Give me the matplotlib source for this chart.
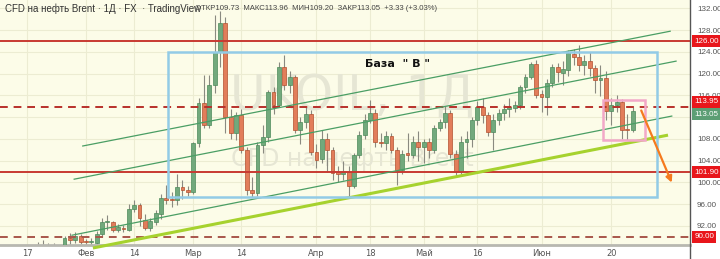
import matplotlib
matplotlib.use('Agg')
import matplotlib.pyplot as plt
import matplotlib.transforms as mtrans
from matplotlib.patches import Rectangle, FancyArrowPatch
import numpy as np

# daily candles, first one is 10 Jan (index -5), 17 Jan = index 0
first_idx = -5
opens = [83.5, 83.7, 87.0, 87.4, 86.6, 86.5, 86.7, 87.8, 88.3, 88.5,
         87.8, 86.3, 88.2, 89.8, 89.4, 90.2, 89.1, 89.0, 88.9, 90.5,
         92.7, 92.7, 91.3, 91.7, 91.3, 95.1, 95.9, 93.1, 91.6, 92.7,
         94.2, 97.1, 96.9, 96.8, 99.2, 98.6, 98.2, 107.2, 114.6, 110.6,
         117.9, 124.0, 129.3, 112.0, 109.0, 112.4, 106.0, 98.6, 98.0, 106.9,
         108.4, 116.6, 114.2, 121.2, 117.9, 119.4, 109.6, 111.1, 112.6, 105.6,
         104.3, 108.0, 106.0, 101.9, 101.5, 102.0, 99.3, 105.0, 108.7, 111.5,
         112.8, 107.4, 107.2, 108.5, 106.0, 102.3, 105.4, 105.0, 107.4, 106.5,
         107.4, 106.0, 110.0, 111.1, 112.8, 105.2, 101.9, 107.4, 108.0, 111.5,
         113.9, 112.4, 109.3, 111.5, 112.8, 113.5, 113.7, 114.2, 117.5, 119.4,
         121.8, 116.3, 115.7, 118.3, 121.2, 120.1, 120.7, 123.6, 123.0, 121.6,
         122.3, 121.0, 118.8, 119.2, 113.1, 114.2, 114.8, 109.8, 109.73]
highs = [84.0, 87.3, 87.9, 87.5, 87.3, 87.2, 88.2, 89.0, 89.4, 88.8,
         88.9, 88.4, 90.2, 90.7, 90.9, 90.6, 89.6, 89.8, 91.0, 93.5,
         94.0, 93.0, 92.3, 92.2, 96.0, 96.8, 96.3, 94.2, 93.5, 95.0,
         97.8, 99.5, 98.3, 101.5, 100.5, 99.3, 107.5, 115.5, 119.7, 119.7,
         130.8, 131.5, 130.5, 113.5, 113.0, 113.5, 106.5, 101.0, 107.5, 110.5,
         117.0, 117.5, 122.1, 123.4, 120.5, 119.8, 112.0, 114.0, 113.3, 107.0,
         109.6, 109.0, 106.5, 103.0, 104.0, 103.0, 105.5, 109.5, 112.5, 115.2,
         113.5, 109.0, 109.5, 109.0, 106.5, 106.0, 109.0, 108.5, 109.4, 108.0,
         108.2, 110.5, 111.6, 114.0, 113.3, 106.0, 108.5, 109.5, 112.0, 115.0,
         115.5, 113.0, 112.5, 113.5, 114.5, 115.5, 115.0, 118.0, 120.0, 122.2,
         122.5, 117.0, 119.0, 121.7, 122.0, 122.3, 124.3, 124.6, 125.3, 123.4,
         124.0, 121.5, 121.5, 120.5, 115.5, 116.0, 115.3, 112.5, 113.96]
lows = [82.0, 83.3, 86.4, 85.8, 85.7, 85.9, 86.3, 87.0, 87.5, 87.0,
        85.0, 86.0, 88.0, 88.5, 88.8, 88.6, 88.0, 88.2, 88.6, 90.2,
        91.3, 90.8, 90.9, 90.8, 91.0, 94.5, 92.0, 91.2, 91.0, 92.2,
        93.2, 96.0, 95.5, 95.8, 97.0, 97.5, 97.8, 106.5, 110.0, 110.0,
        116.5, 121.2, 109.0, 108.0, 107.8, 105.5, 97.7, 97.3, 97.5, 105.5,
        107.5, 112.5, 113.8, 117.0, 116.5, 109.0, 107.0, 110.0, 105.0, 102.7,
        103.5, 102.0, 100.5, 100.0, 100.5, 97.3, 99.0, 104.5, 108.0, 111.0,
        106.5, 106.5, 106.0, 105.5, 99.5, 101.5, 104.0, 104.5, 104.0, 103.5,
        104.5, 105.5, 109.5, 110.0, 104.5, 101.0, 101.5, 104.5, 106.5, 110.5,
        111.0, 108.5, 106.0, 110.5, 111.5, 112.0, 113.0, 113.5, 116.5, 119.0,
        115.5, 113.0, 112.4, 117.5, 118.5, 118.0, 119.5, 121.5, 120.5, 119.8,
        119.5, 116.5, 115.8, 111.5, 110.5, 113.0, 108.0, 107.8, 109.20]
closes = [83.7, 87.2, 87.4, 86.6, 86.5, 86.7, 87.8, 88.3, 88.5, 87.8,
          86.3, 88.2, 89.8, 89.4, 90.2, 89.1, 89.0, 89.1, 90.5, 92.7,
          92.8, 91.3, 91.8, 91.4, 95.1, 95.9, 93.5, 91.6, 93.0, 94.4,
          97.1, 96.8, 96.8, 99.2, 98.6, 98.2, 107.2, 114.6, 110.6, 117.9,
          124.0, 129.3, 112.0, 109.0, 112.4, 106.0, 98.6, 98.0, 106.9, 108.4,
          116.6, 114.2, 121.2, 117.9, 119.4, 109.6, 111.1, 112.6, 105.6, 104.1,
          108.0, 106.0, 101.7, 101.5, 102.0, 99.3, 105.0, 108.7, 111.5, 112.8,
          107.4, 107.2, 108.5, 106.0, 102.3, 105.2, 105.0, 107.4, 106.5, 107.4,
          106.0, 110.0, 111.1, 112.8, 105.2, 101.9, 107.4, 108.0, 111.5, 113.9,
          112.4, 109.3, 111.5, 112.8, 113.5, 113.9, 114.2, 117.5, 119.4, 121.8,
          116.1, 115.7, 118.3, 121.2, 120.3, 120.9, 123.8, 123.0, 121.6, 122.3,
          121.0, 118.8, 119.2, 113.1, 114.2, 114.8, 109.6, 109.6, 113.05]

tick_pos = [0, 11, 20, 31, 40, 54, 64, 74, 84, 96, 109]
tick_labels = ['17', 'Фев', '14', 'Мар', '14', 'Апр', '18', 'Май', '16', 'Июн', '20']
price_ticks = [92, 96, 100, 104, 108, 112, 116, 120, 124, 128, 132]

red_levels = [126.00, 101.90]
dashed_levels = [113.95, 90.00]
last_close = 113.05

# drawn objects (index, price)
upper_line = ([10.4, 120.0], [106.7, 127.8])
middle_line = ([8.8, 121.1], [100.6, 122.3])
lower_line = ([8.4, 120.3], [90.3, 112.2])
support_line = ([12.3, 119.6], [87.95, 108.7])
base_box = (26.3, 97.3, 117.5, 124.0)
pink_box = (107.5, 107.8, 115.3, 115.2)
arrow_pts = ((114.4, 113.7), (120.5, 99.5))

idx = np.arange(first_idx, first_idx + len(opens))
o = np.array(opens); h = np.array(highs); l = np.array(lows); c = np.array(closes)
up = c >= o

bg = '#fcfce8'
fig = plt.figure(figsize=(7.2, 2.59), dpi=100, facecolor='white')
ax = fig.add_axes([0, 14/259, 690/720, 245/259], facecolor=bg)
ax.set_xlim(-5.04, 123.7)
ax.set_ylim(88.5, 133.54)

# grid
for t in tick_pos:
    ax.axvline(t, color='#ececd2', lw=0.8, zorder=0)
for p in price_ticks:
    ax.axhline(p, color='#ececd2', lw=0.8, zorder=0)

# watermark
ax.text(0.51, 0.61, 'UKOIL, 1Д', transform=ax.transAxes, fontsize=35,
        color='#e6e6d4', ha='center', va='center', zorder=0.5)
ax.text(0.51, 0.35, 'CFD на нефть Brent', transform=ax.transAxes, fontsize=17,
        color='#e6e6d4', ha='center', va='center', zorder=0.5)

# candles
ax.vlines(idx, l, h, color='#8a8a80', lw=0.8, zorder=2)
body_low = np.minimum(o, c)
body_h = np.maximum(np.abs(c - o), 0.18)
ax.bar(idx[up], body_h[up], bottom=body_low[up], width=0.72,
       color='#72a97c', edgecolor='#4d8a5a', lw=0.5, zorder=3)
ax.bar(idx[~up], body_h[~up], bottom=body_low[~up], width=0.72,
       color='#e27d5a', edgecolor='#b2502f', lw=0.5, zorder=3)

# levels
for lv in red_levels:
    ax.axhline(lv, color='#c83a32', lw=1.4, zorder=4)
ax.axhline(dashed_levels[0], color='#b8302a', lw=1.4, ls=(0, (4, 3)), zorder=4)
ax.axhline(dashed_levels[1], color='#a8564a', lw=1.4, ls=(0, (4, 3)), zorder=4)

# channel
for xs, ys in (upper_line, middle_line, lower_line):
    ax.plot(xs, ys, color='#4a9e64', lw=0.9, zorder=4)
ax.plot(*support_line, color='#a6d22e', lw=2.2, zorder=4, clip_on=False,
        solid_capstyle='butt')

x0, y0, x1, y1 = base_box
ax.add_patch(Rectangle((x0, y0), x1 - x0, y1 - y0, fill=False,
                       edgecolor='#92cbe6', lw=1.8, zorder=5))
x0, y0, x1, y1 = pink_box
ax.add_patch(Rectangle((x0, y0), x1 - x0, y1 - y0, fill=False,
                       edgecolor='#f2a8c8', lw=1.8, zorder=5))
ax.add_patch(FancyArrowPatch(arrow_pts[0], arrow_pts[1], arrowstyle='-|>',
                             mutation_scale=9, color='#f57a1e', lw=1.6, zorder=6))

ax.text(69.2, 121.8, 'База  " В "', fontsize=8, fontweight='bold',
        ha='center', va='center', color='#111111', zorder=6)

# header
ax.text(0.007, 0.965, 'CFD на нефть Brent · 1Д · FX  · TradingView',
        transform=ax.transAxes, fontsize=7, color='#333333', va='center',
        family='Liberation Sans', zorder=7)
ax.text(0.283, 0.965, 'ОТКР109.73  МАКС113.96  МИН109.20  ЗАКР113.05  +3.33 (+3.03%)',
        transform=ax.transAxes, fontsize=5.6, color='#444444', va='center',
        family='Liberation Sans', zorder=7)

# axes look
ax.set_xticks(tick_pos)
ax.set_xticklabels(tick_labels, fontsize=6, color='#555555')
ax.tick_params(axis='x', length=0, pad=3)
ax.yaxis.tick_right()
ax.set_yticks(price_ticks)
ax.set_yticklabels(['%.2f' % p for p in price_ticks], fontsize=5.8,
                   color='#555555', family='Liberation Sans')
ax.tick_params(axis='y', length=0, pad=5)
for s in ('top', 'left', 'right'):
    ax.spines[s].set_visible(False)
ax.spines['bottom'].set_color('#b8b8b0')
ax.spines['bottom'].set_linewidth(2)

fig.add_artist(plt.Line2D([690/720, 690/720], [0, 1], color='#555555', lw=1,
                          transform=fig.transFigure))

# price labels on the scale, the two near 113 pushed apart like TradingView does
tr = mtrans.blended_transform_factory(ax.transAxes, ax.transData)
label_shift = {113.95: 0.85}
for lv in red_levels + dashed_levels:
    ax.text(1.006, lv + label_shift.get(lv, 0), '%.2f' % lv, transform=tr,
            fontsize=5.8, color='white', va='center', ha='left', zorder=8,
            clip_on=False, family='Liberation Sans',
            bbox=dict(boxstyle='square,pad=0.3', fc='#e8161b', ec='none'))
ax.text(1.006, last_close - 0.5, '%.2f' % last_close, transform=tr, fontsize=5.8,
        color='white', va='center', ha='left', zorder=8, clip_on=False,
        family='Liberation Sans',
        bbox=dict(boxstyle='square,pad=0.3', fc='#5c9e74', ec='none'))

fig.savefig('out.png', dpi=100, facecolor='white')
